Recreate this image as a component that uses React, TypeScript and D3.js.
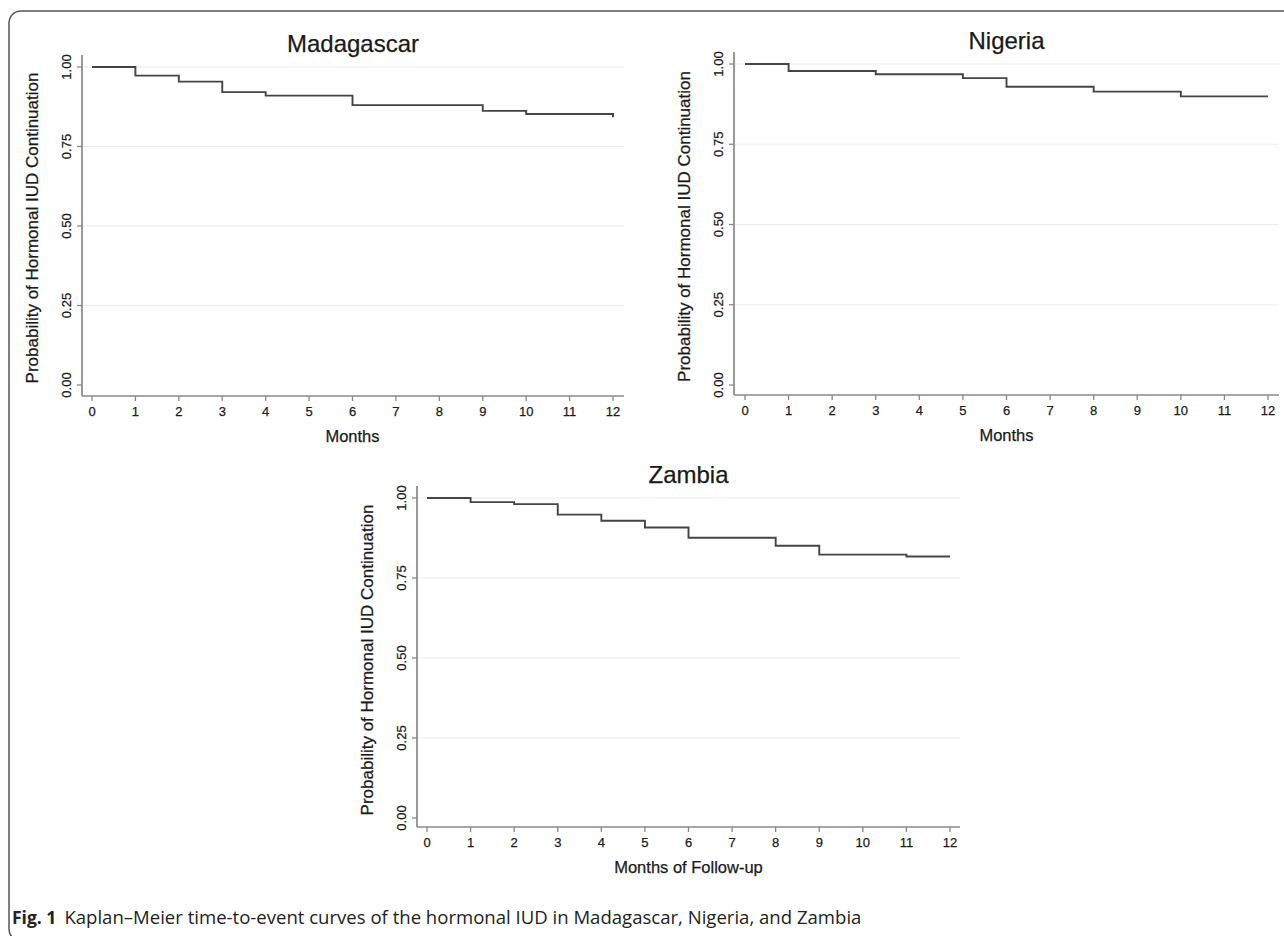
import React from "react";
import * as d3 from "d3";

// ---- Data ----
const monthTicks = [0, 1, 2, 3, 4, 5, 6, 7, 8, 9, 10, 11, 12];
const probTicks = [0, 0.25, 0.5, 0.75, 1];
const gridTicks = [0.25, 0.5, 0.75, 1];

const madagascarTimes = [0, 1, 2, 3, 4, 6, 9, 10, 12];
const madagascarSurv = [1.0, 0.973, 0.954, 0.921, 0.91, 0.88, 0.862, 0.852, 0.842];

const nigeriaTimes = [0, 1, 3, 5, 6, 8, 10, 12];
const nigeriaSurv = [1.0, 0.978, 0.968, 0.956, 0.929, 0.914, 0.899, 0.899];

const zambiaTimes = [0, 1, 2, 3, 4, 5, 6, 8, 9, 11, 12];
const zambiaSurv = [1.0, 0.987, 0.981, 0.948, 0.929, 0.908, 0.876, 0.851, 0.823, 0.817, 0.817];

const yLabel = "Probability of Hormonal IUD Continuation";
const captionBold = "Fig. 1";
const captionText = "Kaplan\u2013Meier time-to-event curves of the hormonal IUD in Madagascar, Nigeria, and Zambia";

type PanelProps = {
  title: string;
  xTitle: string;
  times: number[];
  surv: number[];
  axisX: number;
  x0: number;
  x12: number;
  xEnd: number;
  yTop: number;
  yZero: number;
  axisY: number;
};

const FONT = "'Liberation Sans', Arial, Helvetica, sans-serif";
const TXT = "#1a1a1a";

function Panel(p: PanelProps) {
  const x = d3.scaleLinear().domain([0, 12]).range([p.x0, p.x12]);
  const y = d3.scaleLinear().domain([0, 1]).range([p.yZero, p.yTop]);
  const pts = p.times.map((t, i) => [t, p.surv[i]] as [number, number]);
  const line = d3
    .line<[number, number]>()
    .x((d) => x(d[0]))
    .y((d) => y(d[1]))
    .curve(d3.curveStepAfter);
  const axisColor = "#888888";
  const cx = (p.axisX + p.xEnd) / 2;
  const cy = (p.yTop + p.yZero) / 2;
  const textStroke = { stroke: TXT, strokeWidth: 0.25 };
  return (
    <g>
      {gridTicks.map((t) => (
        <line key={"g" + t} x1={p.axisX} x2={p.xEnd} y1={y(t)} y2={y(t)} stroke="#ececec" strokeWidth={1.2} />
      ))}
      <text x={cx} y={p.yTop - 15} textAnchor="middle" fontFamily={FONT} fontSize={24} fill={TXT} {...textStroke}>
        {p.title}
      </text>
      <line x1={p.axisX} x2={p.axisX} y1={p.yTop - 12} y2={p.axisY} stroke={axisColor} strokeWidth={1.7} />
      {probTicks.map((t) => (
        <g key={"y" + t}>
          <line x1={p.axisX - 5} x2={p.axisX} y1={y(t)} y2={y(t)} stroke={axisColor} strokeWidth={1.3} />
          <text
            transform={`translate(${p.axisX - 11},${y(t)}) rotate(-90)`}
            textAnchor="middle"
            fontFamily={FONT}
            fontSize={13}
            fill={TXT}
            {...textStroke}
          >
            {d3.format(".2f")(t)}
          </text>
        </g>
      ))}
      <text
        transform={`translate(${p.axisX - 44},${cy + 2}) rotate(-90)`}
        textAnchor="middle"
        fontFamily={FONT}
        fontSize={17}
        fill={TXT}
        {...textStroke}
      >
        {yLabel}
      </text>
      <line x1={p.axisX} x2={p.xEnd} y1={p.axisY} y2={p.axisY} stroke={axisColor} strokeWidth={1.7} />
      {monthTicks.map((t) => (
        <g key={"x" + t}>
          <line x1={x(t)} x2={x(t)} y1={p.axisY} y2={p.axisY + 5} stroke={axisColor} strokeWidth={1.3} />
          <text x={x(t)} y={p.axisY + 20} textAnchor="middle" fontFamily={FONT} fontSize={13} fill={TXT} {...textStroke}>
            {t}
          </text>
        </g>
      ))}
      <text
        x={(p.x0 + p.x12) / 2}
        y={p.axisY + 46}
        textAnchor="middle"
        fontFamily={FONT}
        fontSize={16.5}
        fill={TXT}
        {...textStroke}
      >
        {p.xTitle}
      </text>
      <path d={line(pts) || ""} fill="none" stroke="#444" strokeWidth={1.9} />
    </g>
  );
}

export default function App() {
  return (
    <svg
      width={1284}
      height={936}
      style={{ position: "absolute", left: 0, top: 0, display: "block", background: "#fff" }}
    >
      <rect x={9} y={11} width={1300} height={930} rx={12} ry={12} fill="none" stroke="#555" strokeWidth={1.5} />
      <Panel
        title="Madagascar"
        xTitle="Months"
        times={madagascarTimes}
        surv={madagascarSurv}
        axisX={82}
        x0={92}
        x12={613}
        xEnd={624}
        yTop={67}
        yZero={385}
        axisY={396}
      />
      <Panel
        title="Nigeria"
        xTitle="Months"
        times={nigeriaTimes}
        surv={nigeriaSurv}
        axisX={734}
        x0={745}
        x12={1268}
        xEnd={1279}
        yTop={64}
        yZero={385}
        axisY={395}
      />
      <Panel
        title="Zambia"
        xTitle="Months of Follow-up"
        times={zambiaTimes}
        surv={zambiaSurv}
        axisX={417}
        x0={427}
        x12={950}
        xEnd={960}
        yTop={498}
        yZero={818}
        axisY={827}
      />
      <text x={12} y={924} fontFamily="'Open Sans', 'Noto Sans', sans-serif" fontSize={17.5} fill="#222">
        <tspan fontWeight="bold">{captionBold}</tspan>
        <tspan dx={8} textLength={797} lengthAdjust="spacingAndGlyphs">
          {captionText}
        </tspan>
      </text>
    </svg>
  );
}
